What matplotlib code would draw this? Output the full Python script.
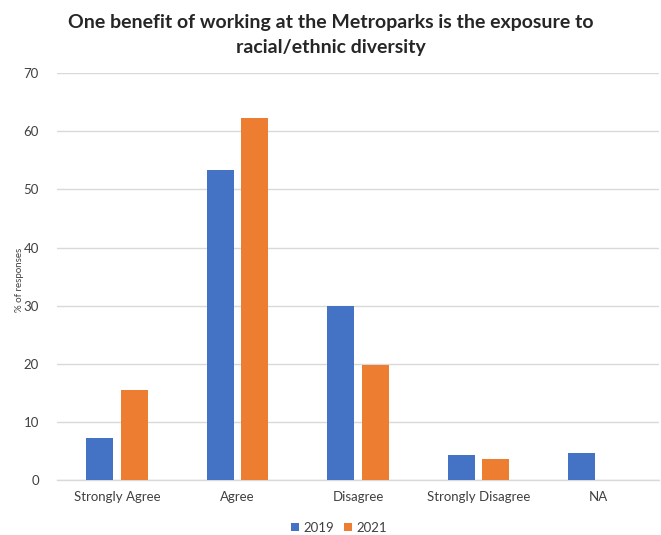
import numpy as np
import matplotlib
matplotlib.use("Agg")
import matplotlib.pyplot as plt
from matplotlib.patches import Patch

plt.rcParams['font.family'] = ['Lato', 'DejaVu Sans']

# data
categories = ['Strongly Agree', 'Agree', 'Disagree', 'Strongly Disagree', 'NA']
pct_2019 = [7.2, 53.4, 30.0, 4.3, 4.6]
pct_2021 = [15.5, 62.3, 19.8, 3.7, 0.0]
series_names = ['2019', '2021']

BLUE = '#4472C4'
ORANGE = '#ED7D31'
GRID = '#d9d9d9'

fig = plt.figure(figsize=(6.61, 5.35), dpi=100)
ax = fig.add_axes([0.0862, 0.1028, 0.9108, 0.7602])

x = np.arange(len(categories))
w = 0.224
off = 0.144
ax.bar(x - off, pct_2019, width=w, color=BLUE, zorder=3)
ax.bar(x + off, pct_2021, width=w, color=ORANGE, zorder=3)

ax.set_xlim(-0.5, len(categories) - 0.5)
ax.set_ylim(0, 70)
ax.set_yticks(np.arange(0, 71, 10))
ax.yaxis.grid(True, color=GRID, linewidth=1.0, zorder=0)
ax.set_axisbelow(True)
for s in ['top', 'right', 'left']:
    ax.spines[s].set_visible(False)
ax.spines['bottom'].set_color(GRID)
ax.spines['bottom'].set_linewidth(1.0)
ax.tick_params(axis='both', length=0, colors='#404040', labelsize=9.5)
ax.tick_params(axis='x', pad=8)
ax.tick_params(axis='y', pad=13)
ax.set_xticks(x)
ax.set_xticklabels(categories)

fig.text(0.029, 0.476, '% of responses', rotation=90, ha='center', va='center',
         fontsize=7, color='#404040')

fig.text(0.5, 0.958, 'One benefit of working at the Metroparks is the exposure to',
         ha='center', va='center', fontsize=14, fontweight='bold', color='#262626')
fig.text(0.5, 0.912, 'racial/ethnic diversity',
         ha='center', va='center', fontsize=14, fontweight='bold', color='#262626')

handles = [Patch(facecolor=BLUE), Patch(facecolor=ORANGE)]
fig.legend(handles, series_names, loc='center', bbox_to_anchor=(0.513, 0.014),
           ncol=2, frameon=False, fontsize=9.5, handlelength=0.6, handleheight=0.6,
           handletextpad=0.3, columnspacing=0.8, labelcolor='#404040')

fig.savefig('out.png', dpi=100)
